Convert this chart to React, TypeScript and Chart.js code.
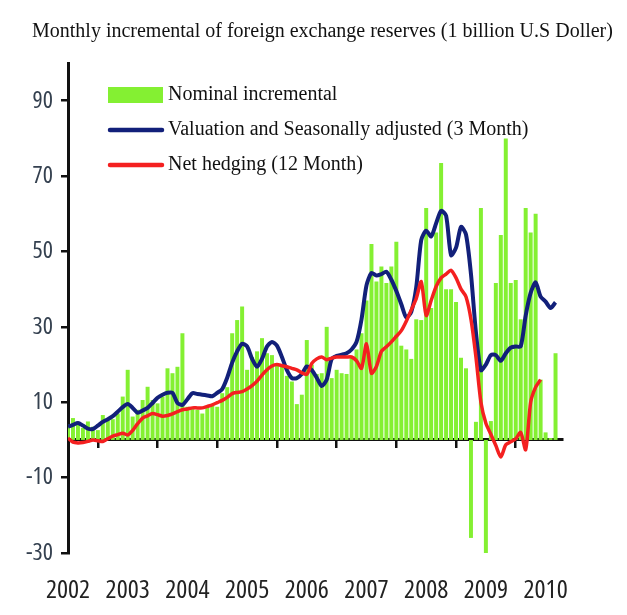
import { useEffect, useRef } from "react";
import { Chart, registerables } from "chart.js";

Chart.register(...registerables);

// Year labels, one per January (every 12 months from Jan 2002)
const yearLabels = ["2002", "2003", "2004", "2005", "2006", "2007", "2008", "2009", "2010"];

// Monthly nominal increment, Jan 2002 .. Mar 2010 (USD billion)
const nominal = [
  4.0, 5.8, 4.0, 3.2, 4.9, 3.5, 2.6, 6.6, 5.3, 5.5, 7.0, 11.5,
  18.6, 6.2, 8.0, 10.6, 14.1, 10.6, 9.7, 11.5, 19.0, 17.7, 19.4, 28.3,
  8.8, 8.5, 8.0, 7.0, 8.8, 9.5, 8.8, 12.4, 14.0, 28.3, 31.8, 35.4,
  18.6, 22.0, 23.5, 27.0, 23.0, 22.5, 20.0, 19.9, 17.0, 15.5, 9.5, 12.0,
  26.5, 20.0, 17.5, 17.7, 30.0, 16.4, 18.6, 17.7, 17.5, 22.0, 24.0, 28.3,
  37.0, 52.0, 42.0, 46.0, 41.6, 46.0, 52.6, 25.0, 24.0, 21.5, 32.0, 31.8,
  61.5, 35.0, 55.0, 73.5, 40.0, 40.0, 36.6, 21.8, 19.0, -26.0, 4.8, 61.5,
  -31.0, 5.0, 41.6, 54.4, 80.0, 41.6, 42.4, 32.0, 61.5, 55.0, 60.0, 16.0,
  2.0, 0.5, 23.0,
];

// Valuation and seasonally adjusted, 3-month average
const valuation = [
  3.5, 4.0, 4.5, 3.8, 3.0, 2.9, 3.8, 4.8, 5.5, 6.3, 7.5, 8.7,
  9.5, 8.5, 7.2, 7.8, 8.5, 9.8, 11.2, 12.0, 12.5, 12.5, 9.8, 9.3,
  10.8, 12.4, 12.2, 12.0, 11.8, 11.6, 12.5, 13.5, 16.5, 20.5, 23.5, 25.5,
  24.8, 21.5, 19.4, 21.5, 24.8, 26.0, 25.0, 22.0, 18.5, 16.4, 16.4, 17.5,
  19.5, 18.5, 16.5, 14.3, 16.0, 21.5, 22.3, 22.6, 23.0, 24.0, 26.0, 32.0,
  41.0, 44.3, 43.6, 44.0, 44.6, 42.5, 39.5, 36.0, 32.5, 34.0, 40.5, 53.0,
  55.5, 54.0, 57.5, 60.8, 59.5, 49.0, 51.0, 56.5, 54.5, 44.0, 28.5, 18.5,
  20.0, 22.5, 22.5, 21.0, 23.0, 24.5, 24.8, 24.8, 33.0, 39.0, 41.8, 38.0,
  36.7, 35.0, 36.5,
];

// Net hedging, 12-month
const hedging = [
  0.5, -0.6, -0.8, -0.7, -0.4, 0.0, -0.2, -0.4, 0.3, 1.0, 1.4, 1.8,
  1.3, 2.5, 4.3, 5.8, 6.4, 7.0, 6.7, 6.3, 6.5, 6.9, 7.5, 8.0,
  8.2, 8.5, 8.5, 8.5, 8.9, 9.3, 9.9, 10.5, 11.3, 12.3, 12.6, 12.8,
  13.5, 14.4, 15.6, 17.2, 18.6, 19.6, 20.0, 19.7, 19.4, 19.0, 18.6, 17.8,
  17.4, 20.3, 21.5, 22.0, 21.3, 21.7, 22.0, 22.0, 22.0, 22.0, 21.0, 19.0,
  25.5, 17.7, 19.5, 23.5, 24.7, 26.0, 27.5, 29.0, 31.5, 34.5, 37.5, 42.0,
  33.0, 37.0, 40.7, 43.0, 44.0, 45.0, 43.0, 40.0, 38.0, 32.0, 22.0, 10.0,
  4.4, 1.5, -1.5, -4.5, -1.3, -0.5, 0.3, 2.0, -2.6, 10.0, 14.0, 16.0,
];

const yTicks = [-30, -10, 10, 30, 50, 70, 90];

const titleText = "Monthly incremental of foreign exchange reserves (1 billion U.S Doller)";
const seriesNames = [
  "Nominal incremental",
  "Valuation and Seasonally adjusted (3 Month)",
  "Net hedging (12 Month)",
];

const GREEN = "#84f032";
const BLUE = "#12207a";
const RED = "#f42020";
const SERIF = '"Liberation Serif", "Times New Roman", serif';
const NARROW = '"Open Sans", "Liberation Sans", sans-serif';

const toPoints = (arr: number[]) => arr.map((v, i) => ({ x: i, y: v }));

// Title and in-plot legend drawn on the canvas
const captionPlugin = {
  id: "captions",
  afterDraw(chart: any) {
    const { ctx } = chart;
    ctx.save();
    ctx.fillStyle = "#111";
    ctx.font = `20px ${SERIF}`;
    ctx.textBaseline = "middle";
    ctx.textAlign = "left";
    ctx.fillText(titleText, 32, 32);

    chart.data.datasets.forEach((ds: any, i: number) => {
      const cy = 95 + i * 35;
      if (ds.type === "bar") {
        ctx.fillStyle = ds.backgroundColor;
        ctx.fillRect(108, cy - 8, 55, 16);
      } else {
        ctx.strokeStyle = ds.borderColor;
        ctx.lineWidth = 4.5;
        ctx.lineCap = "round";
        ctx.beginPath();
        ctx.moveTo(110, cy);
        ctx.lineTo(162, cy);
        ctx.stroke();
      }
      ctx.fillStyle = "#111";
      ctx.fillText(ds.label, 168, cy);
    });
    ctx.restore();
  },
};

export default function App() {
  const canvasRef = useRef<HTMLCanvasElement | null>(null);

  useEffect(() => {
    if (!canvasRef.current) return;
    const chart = new Chart(canvasRef.current, {
      type: "bar",
      data: {
        datasets: [
          {
            type: "bar",
            label: seriesNames[0],
            data: toPoints(nominal),
            backgroundColor: GREEN,
            borderWidth: 0,
            barPercentage: 0.8,
            categoryPercentage: 1,
            order: 3,
          },
          {
            type: "line",
            label: seriesNames[1],
            data: toPoints(valuation),
            borderColor: BLUE,
            borderWidth: 4,
            pointRadius: 0,
            tension: 0.25,
            order: 2,
          },
          {
            type: "line",
            label: seriesNames[2],
            data: toPoints(hedging),
            borderColor: RED,
            borderWidth: 3.5,
            pointRadius: 0,
            tension: 0.25,
            order: 1,
          },
        ] as any,
      },
      options: {
        responsive: false,
        animation: false,
        devicePixelRatio: 1,
        layout: { padding: { top: 63, right: 65, left: 0, bottom: 0 } },
        plugins: {
          legend: { display: false },
          title: { display: false },
          tooltip: { enabled: false },
        },
        scales: {
          x: {
            type: "linear",
            position: "bottom",
            min: 0,
            max: 99.3,
            offset: false,
            afterBuildTicks: (s: any) => {
              s.ticks = yearLabels.map((_, i) => ({ value: i * 12 }));
            },
            ticks: {
              callback: (v: any) => yearLabels[Math.round(Number(v) / 12)],
              font: { family: NARROW, size: 26, weight: "normal condensed" },
              color: "#222",
              padding: 14,
              maxRotation: 0,
              autoSkip: false,
            },
            grid: { display: false },
            border: { display: false },
            afterFit: (s: any) => {
              s.height = 62;
            },
          },
          xz: {
            type: "linear",
            position: { y: 0 },
            min: 0,
            max: 99.3,
            offset: false,
            afterBuildTicks: (s: any) => {
              s.ticks = yearLabels.slice(1).map((_, i) => ({ value: (i + 1) * 12 }));
            },
            ticks: { display: false },
            grid: {
              display: true,
              drawOnChartArea: false,
              drawTicks: true,
              tickLength: 7,
              color: "#111",
              lineWidth: 2.5,
            },
            border: { display: true, color: "#111", width: 3 },
          },
          y: {
            type: "linear",
            min: -30,
            max: 100,
            afterBuildTicks: (s: any) => {
              s.ticks = yTicks.map((v) => ({ value: v }));
            },
            ticks: {
              font: { family: NARROW, size: 24, weight: "normal condensed" },
              color: "#34404f",
              padding: 8,
            },
            grid: {
              drawOnChartArea: false,
              drawTicks: true,
              tickLength: 7,
              color: "#111",
              lineWidth: 2.5,
            },
            border: { color: "#111", width: 3 },
            afterFit: (s: any) => {
              s.width = 68;
            },
          },
        } as any,
      },
      plugins: [captionPlugin],
    });
    return () => chart.destroy();
  }, []);

  return (
    <div style={{ position: "absolute", left: 0, top: 0, width: 627, height: 615, background: "#fff" }}>
      <canvas ref={canvasRef} width={627} height={615} style={{ width: 627, height: 615, display: "block" }} />
    </div>
  );
}
